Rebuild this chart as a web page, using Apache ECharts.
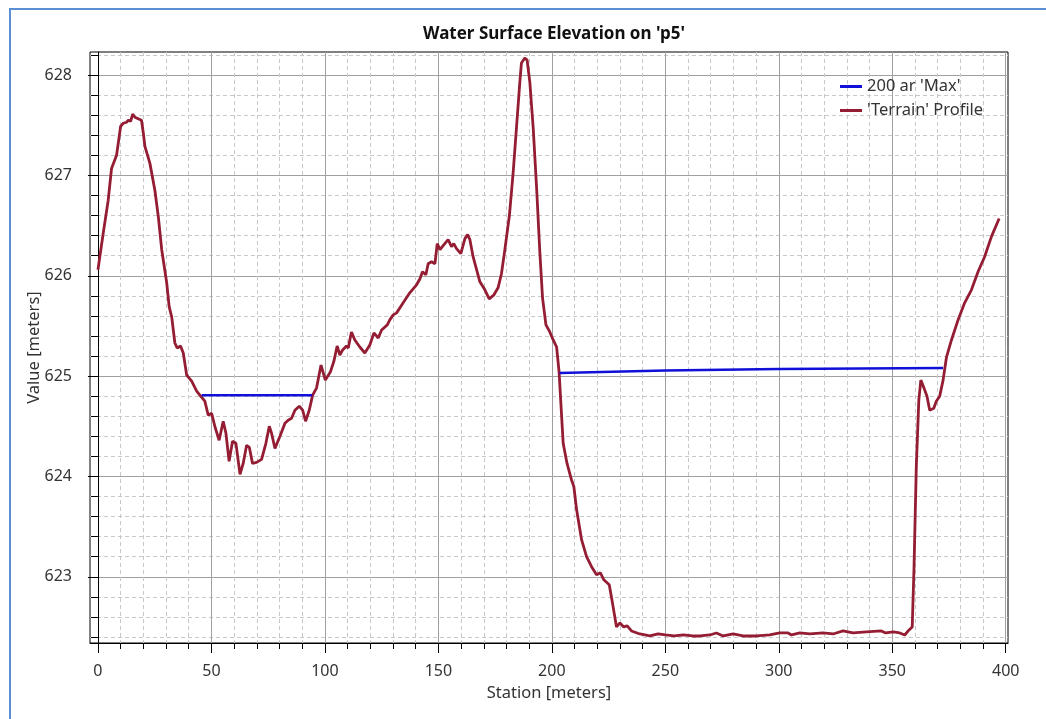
<!DOCTYPE html>
<html>
<head>
<meta charset="utf-8">
<script src="https://cdn.jsdelivr.net/npm/echarts@6/dist/echarts.min.js"></script>
<style>
html,body{margin:0;padding:0;background:#fff;}
#chart{width:1046px;height:719px;}
</style>
</head>
<body>
<div id="chart"></div>
<script>
// ---- data ----
const terrainStation = [0.0,2.3,4.5,6.0,8.2,10.0,11.2,12.6,13.4,14.4,15.3,16.3,18.2,19.2,20.0,20.7,22.9,25.1,26.6,28.1,30.3,31.4,32.5,33.9,34.9,36.4,37.6,39.1,41.3,43.5,44.9,47.1,48.6,50.1,51.5,53.4,55.2,56.4,57.8,59.3,60.8,62.6,64.0,65.5,66.7,68.1,69.9,72.1,74.0,75.5,76.5,78.0,80.2,82.4,83.8,85.3,86.8,88.7,90.2,91.5,93.1,94.6,96.3,98.3,100.2,102.4,104.0,105.4,106.6,107.8,109.5,110.3,111.7,113.2,115.4,117.6,119.8,121.6,123.5,125.0,127.5,128.6,130.1,131.6,134.5,137.4,140.4,141.9,143.0,144.5,145.5,147.0,148.5,149.5,150.7,152.1,154.3,155.8,156.8,158.0,159.9,161.7,162.9,163.9,165.3,168.3,170.5,172.4,174.5,176.3,177.8,179.3,181.3,183.0,184.4,185.9,186.6,188.1,189.1,190.3,191.8,193.3,194.7,195.9,197.4,199.1,200.6,202.1,203.2,203.8,205.0,206.7,208.6,209.7,210.9,213.1,215.3,217.5,219.7,221.4,222.9,225.3,226.7,228.5,230.0,231.7,233.2,235.1,238.8,243.2,246.8,250.0,254.0,258.0,262.0,265.2,269.6,272.5,275.5,279.9,284.3,290.2,296.0,300.4,304.1,305.6,309.3,313.7,319.5,323.9,328.3,332.7,338.6,345.2,347.1,350.4,353.3,355.5,357.4,358.8,359.6,360.6,361.7,362.6,364.0,365.3,366.5,368.3,369.4,370.9,372.4,373.9,376.1,379.0,381.9,384.9,387.8,390.7,393.7,397.1];
const terrainElev = [626.06,626.42,626.75,627.07,627.20,627.49,627.52,627.53,627.55,627.54,627.61,627.58,627.56,627.55,627.42,627.29,627.12,626.85,626.59,626.26,625.93,625.69,625.59,625.33,625.28,625.30,625.23,625.01,624.95,624.85,624.81,624.75,624.61,624.63,624.50,624.36,624.55,624.43,624.15,624.35,624.33,624.02,624.13,624.31,624.29,624.13,624.14,624.17,624.33,624.50,624.43,624.28,624.40,624.53,624.56,624.58,624.66,624.70,624.66,624.55,624.66,624.81,624.88,625.11,624.96,625.04,625.15,625.30,625.21,625.26,625.30,625.28,625.44,625.36,625.29,625.23,625.31,625.43,625.38,625.46,625.51,625.56,625.61,625.63,625.73,625.83,625.91,625.97,626.04,626.01,626.12,626.14,626.12,626.32,626.26,626.30,626.36,626.29,626.32,626.27,626.22,626.37,626.41,626.36,626.19,625.94,625.86,625.77,625.81,625.88,626.02,626.26,626.60,627.04,627.47,627.93,628.12,628.17,628.15,627.93,627.47,626.87,626.24,625.78,625.51,625.44,625.36,625.29,625.04,624.80,624.33,624.13,623.97,623.90,623.67,623.37,623.20,623.10,623.02,623.04,622.97,622.92,622.74,622.50,622.54,622.50,622.51,622.46,622.43,622.41,622.43,622.42,622.41,622.42,622.41,622.41,622.42,622.44,622.41,622.43,622.41,622.41,622.42,622.44,622.44,622.42,622.44,622.43,622.44,622.43,622.46,622.44,622.45,622.46,622.44,622.45,622.44,622.42,622.47,622.50,623.10,624.10,624.76,624.96,624.88,624.80,624.66,624.68,624.75,624.80,624.96,625.19,625.36,625.56,625.73,625.86,626.04,626.19,626.39,626.57];
const maxStation = [45.7, 94.4, 150.0, 203.4, 250.0, 300.0, 372.4];
const maxElev    = [624.81, 624.81, '-', 625.03, 625.055, 625.07, 625.08];
const xMinorTicks = [0,10,20,30,40,50,60,70,80,90,100,110,120,130,140,150,160,170,180,190,200,210,220,230,240,250,260,270,280,290,300,310,320,330,340,350,360,370,380,390,400];
const xMajorTicks = [0,50,100,150,200,250,300,350,400];
const yMinorTicks = [622.4,622.6,622.8,623,623.2,623.4,623.6,623.8,624,624.2,624.4,624.6,624.8,625,625.2,625.4,625.6,625.8,626,626.2,626.4,626.6,626.8,627,627.2,627.4,627.6,627.8,628,628.2];
const yMajorTicks = [623,624,625,626,627,628];
const titleText = "Water Surface Elevation on 'p5'";
const seriesNames = ["200 ar 'Max'", "'Terrain' Profile"];
const seriesColors = ['#1010d8', '#941c33'];

const FONT = "'Noto Sans', 'Open Sans', sans-serif";
const pair = (xs, ys) => xs.map((x, i) => [x, ys[i]]);

const chart = echarts.init(document.getElementById('chart'));
const xBase = {type: 'value', gridIndex: 0, min: -3.5, max: 401, position: 'bottom'};
const yBase = {type: 'value', gridIndex: 0, min: 622.34, max: 628.23, position: 'left'};

chart.setOption({
  animation: false,
  backgroundColor: '#ffffff',
  title: {
    text: titleText, left: 549, top: 21, textAlign: 'center',
    textStyle: {fontFamily: FONT, fontSize: 17, fontWeight: 'bold', color: '#111'}
  },
  legend: {
    orient: 'vertical', left: 840, top: 78, padding: 0, itemGap: 7, itemWidth: 22, itemHeight: 3,
    textStyle: {fontFamily: FONT, fontSize: 16.5, color: '#333'},
    data: seriesNames.map((n) => ({name: n, icon: 'rect'}))
  },
  grid: {left: 90, top: 52, right: 38, bottom: 76, show: true, borderColor: '#000', borderWidth: 1, backgroundColor: 'transparent'},
  xAxis: [
    Object.assign({}, xBase, {
      name: 'Station [meters]', nameLocation: 'middle', nameGap: 42, nameMoveOverlap: false,
      nameTextStyle: {fontFamily: FONT, fontSize: 16.5, color: '#333'},
      axisLine: {show: true, lineStyle: {color: '#000', width: 1}},
      axisTick: {show: true, customValues: xMinorTicks, length: 6, lineStyle: {color: '#000'}},
      axisLabel: {show: true, customValues: xMajorTicks, margin: 20, fontFamily: FONT, fontSize: 16, color: '#333'},
      splitLine: {show: true, lineStyle: {color: '#c8c8c8', type: [4, 3], width: 1}}
    }),
    Object.assign({}, xBase, {
      axisLine: {show: false},
      axisTick: {show: true, customValues: xMajorTicks, length: 10, lineStyle: {color: '#000'}},
      axisLabel: {show: false},
      splitLine: {show: true, lineStyle: {color: '#a0a0a0', type: 'solid', width: 1}}
    })
  ],
  yAxis: [
    Object.assign({}, yBase, {
      name: 'Value [meters]', nameLocation: 'middle', nameGap: 47, nameMoveOverlap: false,
      nameTextStyle: {fontFamily: FONT, fontSize: 16.5, color: '#333'},
      axisLine: {show: true, lineStyle: {color: '#000', width: 1}},
      axisTick: {show: true, customValues: yMinorTicks, length: 7, lineStyle: {color: '#000'}},
      axisLabel: {show: true, customValues: yMajorTicks, margin: 18, fontFamily: FONT, fontSize: 16, color: '#333'},
      splitLine: {show: true, lineStyle: {color: '#c8c8c8', type: [4, 3], width: 1}}
    }),
    Object.assign({}, yBase, {
      axisLine: {show: false},
      axisTick: {show: true, customValues: yMajorTicks, length: 10, lineStyle: {color: '#000'}},
      axisLabel: {show: false},
      splitLine: {show: true, lineStyle: {color: '#a0a0a0', type: 'solid', width: 1}}
    })
  ],
  graphic: [
    {type: 'rect', silent: true, shape: {x: 10, y: 9, width: 1100, height: 800},
     style: {fill: 'none', stroke: '#5b8fd4', lineWidth: 2}, z: 0}
  ],
  series: [
    {
      name: seriesNames[0], type: 'line', xAxisIndex: 0, yAxisIndex: 0,
      data: pair(maxStation, maxElev), showSymbol: false, symbol: 'none',
      connectNulls: false,
      lineStyle: {color: seriesColors[0], width: 2.5}, itemStyle: {color: seriesColors[0]}, z: 4
    },
    {
      name: seriesNames[1], type: 'line', xAxisIndex: 0, yAxisIndex: 0,
      data: pair(terrainStation, terrainElev), showSymbol: false, symbol: 'none',
      lineStyle: {color: seriesColors[1], width: 2.8}, itemStyle: {color: seriesColors[1]}, z: 3
    }
  ]
});
</script>
</body>
</html>
